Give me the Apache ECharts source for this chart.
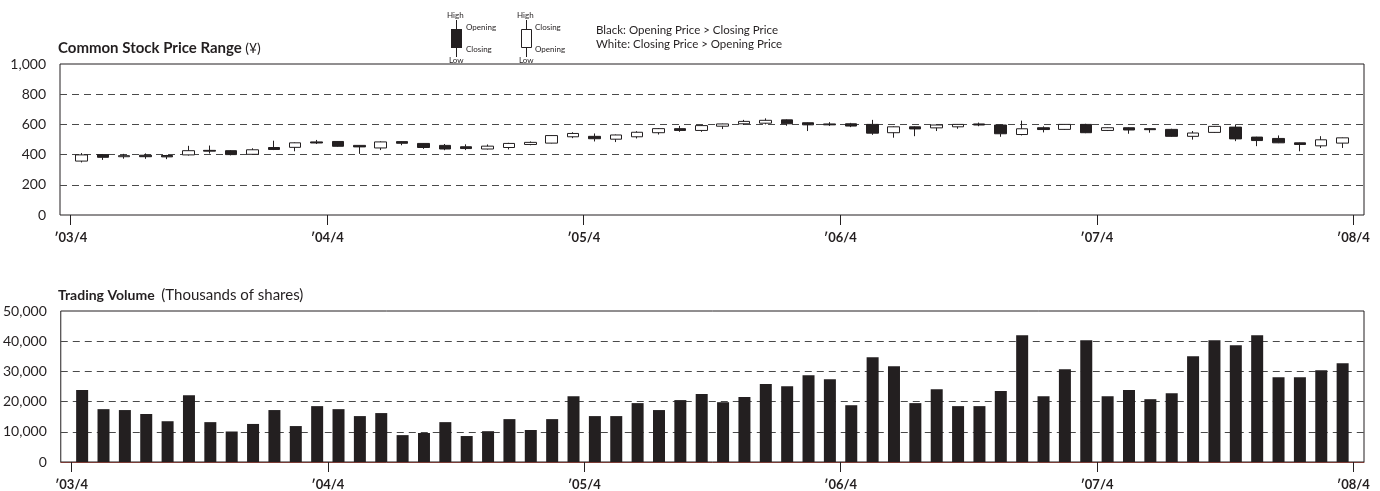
<!DOCTYPE html>
<html>
<head>
<meta charset="utf-8">
<script src="https://cdn.jsdelivr.net/npm/echarts@6/dist/echarts.min.js"></script>
<style>
  html, body { margin: 0; padding: 0; background: #ffffff; }
  #chart { width: 1380px; height: 491px; }
</style>
</head>
<body>
<div id="chart"></div>
<script>
// Monthly periods, April 2003 – March 2008
const months = [
  '2003/04','2003/05','2003/06','2003/07','2003/08','2003/09','2003/10','2003/11','2003/12','2004/01','2004/02','2004/03',
  '2004/04','2004/05','2004/06','2004/07','2004/08','2004/09','2004/10','2004/11','2004/12','2005/01','2005/02','2005/03',
  '2005/04','2005/05','2005/06','2005/07','2005/08','2005/09','2005/10','2005/11','2005/12','2006/01','2006/02','2006/03',
  '2006/04','2006/05','2006/06','2006/07','2006/08','2006/09','2006/10','2006/11','2006/12','2007/01','2007/02','2007/03',
  '2007/04','2007/05','2007/06','2007/07','2007/08','2007/09','2007/10','2007/11','2007/12','2008/01','2008/02','2008/03'
];

// Common stock price (yen)
const priceOpen = [
  357, 400, 386, 396, 394, 398, 428, 426, 402, 447, 448, 484,
  487, 461, 444, 486, 474, 461, 452, 437, 447, 467, 476, 518,
  521, 502, 518, 545, 572, 560, 588, 604, 608, 630, 611, 603,
  604, 600, 545, 584, 577, 584, 603, 596, 533, 578, 567, 600,
  560, 578, 572, 567, 521, 547, 582, 516, 507, 478, 458, 476
];
const priceClose = [
  398, 382, 393, 386, 385, 426, 423, 400, 432, 434, 478, 477,
  455, 451, 484, 475, 447, 437, 440, 456, 474, 481, 526, 540,
  505, 530, 548, 572, 560, 592, 603, 620, 627, 604, 597, 597,
  589, 542, 584, 570, 596, 600, 596, 538, 571, 566, 600, 545,
  578, 563, 565, 521, 543, 587, 504, 493, 478, 467, 498, 511
];
const priceLow = [
  348, 365, 373, 372, 370, 394, 407, 395, 400, 430, 422, 470,
  452, 405, 430, 462, 438, 429, 430, 434, 434, 462, 474, 509,
  487, 483, 507, 533, 551, 551, 569, 596, 600, 591, 556, 590,
  582, 531, 512, 522, 556, 571, 588, 518, 527, 547, 564, 542,
  556, 538, 545, 518, 499, 544, 489, 456, 476, 422, 444, 444
];
const priceHigh = [
  410, 404, 405, 408, 398, 458, 460, 430, 442, 492, 481, 497,
  490, 463, 488, 489, 476, 470, 468, 467, 478, 487, 528, 548,
  540, 533, 555, 576, 590, 596, 605, 630, 640, 633, 613, 615,
  610, 630, 587, 587, 598, 602, 612, 598, 625, 587, 602, 604,
  580, 580, 575, 571, 556, 589, 600, 518, 527, 480, 522, 513
];

// Trading volume (thousands of shares)
const volume = [
  23800, 17500, 17200, 15900, 13500, 22100, 13200, 10100, 12600, 17200, 11900, 18500,
  17500, 15200, 16200,  8900,  9600, 13200,  8600, 10200, 14200, 10600, 14200, 21800,
  15200, 15200, 19500, 17200, 20500, 22500, 19800, 21500, 25800, 25100, 28700, 27400,
  18800, 34700, 31700, 19500, 24100, 18500, 18500, 23500, 42000, 21800, 30700, 40300,
  21800, 23800, 20800, 22800, 35000, 40300, 38700, 42000, 28100, 28100, 30400, 32700
];

// Fiscal-year boundary labels on the time axis
const yearLabels = ['\u203203/4', '\u203204/4', '\u203205/4', '\u203206/4', '\u203207/4', '\u203208/4'];
const priceTicks = [0, 200, 400, 600, 800, 1000];
const volumeTicks = [0, 10000, 20000, 30000, 40000, 50000];

// One empty slot on each side of the months so the frame sits half a month outside the year marks
const slots = [''].concat(months, ['']);
const pad = arr => ['-'].concat(arr, ['-']);
const candleData = pad(months.map((m, i) => [priceOpen[i], priceClose[i], priceLow[i], priceHigh[i]]));
const volumeData = pad(volume);
const boundaryPos = yearLabels.map((_, k) => k * 12 + 0.5);

const INK = '#231f20';
const FONT = 'Lato, "Open Sans", sans-serif';
const fmt = v => String(v).replace(/\B(?=(\d{3})+(?!\d))/g, ',');

function slotAxis(gridIndex, lineColor) {
  return {
    type: 'category', gridIndex, data: slots, boundaryGap: false,
    axisLine: { show: !!lineColor, onZero: false, lineStyle: { color: lineColor || INK, width: 1 } },
    axisTick: { show: false }, axisLabel: { show: false }, splitLine: { show: false }
  };
}
function yearAxis(gridIndex) {
  return {
    type: 'value', gridIndex, min: 0, max: slots.length - 1, position: 'bottom',
    axisLine: { show: false }, splitLine: { show: false },
    axisTick: { show: true, length: 10, customValues: boundaryPos, lineStyle: { color: INK, width: 1 } },
    axisLabel: {
      customValues: boundaryPos, margin: 16,
      formatter: v => yearLabels[Math.round((v - 0.5) / 12)],
      color: INK, fontFamily: FONT, fontWeight: 'bold', fontSize: 13
    }
  };
}
function valueAxis(gridIndex, ticks) {
  return {
    type: 'value', gridIndex, min: ticks[0], max: ticks[ticks.length - 1],
    interval: ticks[1] - ticks[0],
    axisLine: { show: false }, axisTick: { show: false },
    axisLabel: { formatter: fmt, color: INK, fontFamily: FONT, fontSize: 14, margin: 14 },
    splitLine: {
      show: true, showMinLine: false, showMaxLine: false,
      lineStyle: { color: '#4a4a4a', type: [7, 5], width: 1 }
    }
  };
}

const legendText = (x, y, text, size, align) => ({
  type: 'text', x, y, silent: true,
  style: { text, fill: INK, font: `${size}px ${FONT}`, textAlign: align || 'left', textVerticalAlign: 'middle' }
});

const chart = echarts.init(document.getElementById('chart'), null, { renderer: 'canvas' });
chart.setOption({
  animation: false,
  backgroundColor: '#ffffff',
  grid: [
    { left: 60, right: 16, top: 64, height: 151, show: true, borderColor: INK, borderWidth: 1 },
    { left: 60, right: 16, top: 311, height: 152, show: true, borderColor: INK, borderWidth: 1 }
  ],
  xAxis: [slotAxis(0), yearAxis(0), slotAxis(1, '#7a3b35'), yearAxis(1)],
  yAxis: [valueAxis(0, priceTicks), valueAxis(1, volumeTicks)],
  series: [
    {
      name: 'Common Stock Price', type: 'candlestick', xAxisIndex: 0, yAxisIndex: 0,
      data: candleData, barWidth: 12,
      itemStyle: { color: '#ffffff', color0: INK, borderColor: INK, borderColor0: INK, borderWidth: 1 }
    },
    {
      name: 'Trading Volume', type: 'bar', xAxisIndex: 2, yAxisIndex: 1,
      data: volumeData, barWidth: 12, itemStyle: { color: INK }
    }
  ],
  graphic: [
    {
      type: 'text', x: 58, y: 48, silent: true,
      style: {
        text: '{b|Common Stock Price Range} {n|(¥)}', textVerticalAlign: 'middle',
        rich: {
          b: { fontFamily: FONT, fontWeight: 'bold', fontSize: 15, fill: INK },
          n: { fontFamily: FONT, fontSize: 14, fill: INK }
        }
      }
    },
    {
      type: 'text', x: 58, y: 295, silent: true,
      style: {
        text: '{b|Trading Volume}  {n|(Thousands of shares)}', textVerticalAlign: 'middle',
        rich: {
          b: { fontFamily: FONT, fontWeight: 'bold', fontSize: 14, fill: INK },
          n: { fontFamily: FONT, fontSize: 15, fill: INK }
        }
      }
    },
    // key: black candle
    { type: 'line', shape: { x1: 456.5, y1: 20, x2: 456.5, y2: 57 }, style: { stroke: INK, lineWidth: 1 }, silent: true },
    { type: 'rect', shape: { x: 451, y: 29, width: 11, height: 19 }, style: { fill: INK }, silent: true },
    legendText(447, 15, 'High', 8),
    legendText(466, 27, 'Opening', 8),
    legendText(466, 49, 'Closing', 8),
    legendText(449, 60, 'Low', 8),
    // key: white candle
    { type: 'line', shape: { x1: 526.5, y1: 20, x2: 526.5, y2: 57 }, style: { stroke: INK, lineWidth: 1 }, silent: true },
    { type: 'rect', shape: { x: 521.5, y: 29.5, width: 10, height: 18 }, style: { fill: '#ffffff', stroke: INK, lineWidth: 1 }, silent: true },
    legendText(517, 15, 'High', 8),
    legendText(535, 27, 'Closing', 8),
    legendText(535, 49, 'Opening', 8),
    legendText(519, 60, 'Low', 8),
    legendText(596, 30, 'Black: Opening Price > Closing Price', 11.5),
    legendText(596, 44, 'White: Closing Price > Opening Price', 11.5)
  ]
});
</script>
</body>
</html>
